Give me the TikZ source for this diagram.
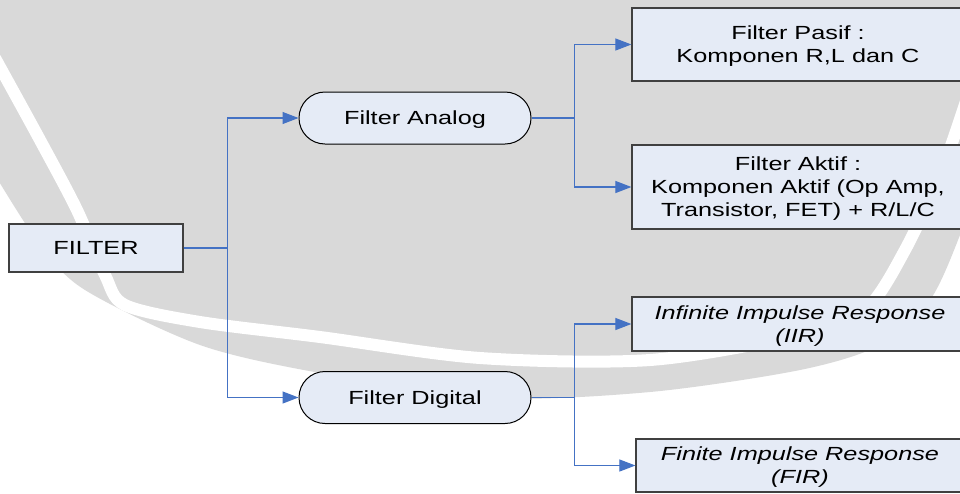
\documentclass[tikz,border=0pt]{standalone}
\usepackage{fontspec}
\setmainfont[FakeStretch=1.33]{Liberation Sans}
\usetikzlibrary{arrows.meta}
\definecolor{wmgrey}{RGB}{217,217,217}
\definecolor{boxfill}{RGB}{229,235,246}
\definecolor{linkblue}{RGB}{68,114,196}
\definecolor{boxline}{RGB}{64,64,64}
\begin{document}
\begin{tikzpicture}[x=1pt,y=-1pt,
  every node/.style={font=\fontsize{19}{23}\selectfont, text=black},
  sqbox/.style={draw=boxline, line width=1.2pt, fill=boxfill, inner sep=0pt, align=center, text depth=0pt},
  pill/.style={draw=black, line width=1pt, fill=boxfill, rounded corners=26pt, minimum width=232pt, minimum height=52pt, inner sep=0pt, text depth=0pt},
  link/.style={draw=linkblue, line width=1.1pt, -{Triangle[length=16pt,width=12pt]}}]
\useasboundingbox (0,0) rectangle (960,493);
\fill[white] (0,0) rectangle (960,493);
% watermark background
\fill[wmgrey] plot[smooth] coordinates {(-5,175) (40,245) (85,290) (200,345) (320,373) (490,398) (650,392) (800,370) (880,345) (930,300) (960,235) (970,200)} -- (970,-5) -- (-5,-5) -- cycle;
\draw[white, line width=12pt] plot[smooth] coordinates {(-5,58) (40,140) (77,210) (105,275) (125,305) (200,322) (320,337) (480,358) (650,360) (800,335) (865,310) (905,250) (942,170) (968,95)};
% nodes
\node[sqbox, minimum width=174pt, minimum height=48pt] (filter) at (96,248) {FILTER};
\node[pill] (analog) at (415,118) {Filter Analog};
\node[pill] (digital) at (415,397.5) {Filter Digital};
\node[sqbox, minimum width=332pt, minimum height=73pt] (pasif) at (798,44.5) {Filter Pasif :\\Komponen R,L dan C};
\node[sqbox, minimum width=332pt, minimum height=84pt] (aktif) at (798,187) {Filter Aktif :\\Komponen Aktif (Op Amp,\\Transistor, FET) + R/L/C};
\node[sqbox, minimum width=336pt, minimum height=54pt] (iir) at (800,324) {\itshape Infinite Impulse Response\\\itshape (IIR)};
\node[sqbox, minimum width=328pt, minimum height=53pt] (fir) at (800,465.5) {\itshape Finite Impulse Response\\\itshape (FIR)};
% connectors
\draw[link] (filter.east) -- ++(44,0) |- (analog.west);
\draw[link] (filter.east) -- ++(44,0) |- (digital.west);
\draw[link] (analog.east) -- ++(43,0) |- (pasif.west);
\draw[link] (analog.east) -- ++(43,0) |- (aktif.west);
\draw[link] (digital.east) -- ++(43,0) |- (iir.west);
\draw[link] (digital.east) -- ++(43,0) |- (fir.west);
\end{tikzpicture}
\end{document}
